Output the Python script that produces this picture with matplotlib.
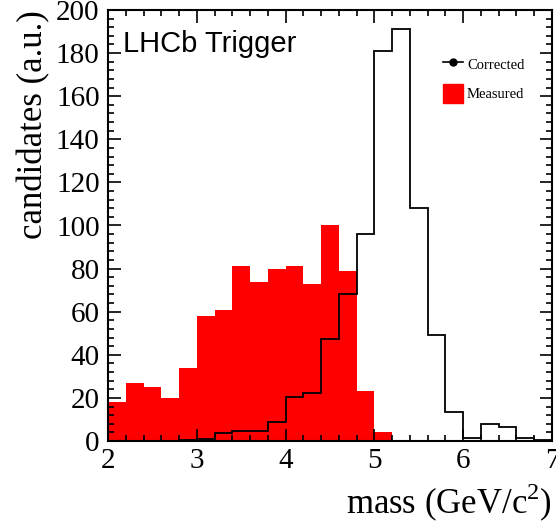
import numpy as np
import matplotlib
matplotlib.use('Agg')
import matplotlib.pyplot as plt
from matplotlib.lines import Line2D
from matplotlib.patches import Patch
from matplotlib.ticker import MultipleLocator

# bin edges 2..7 GeV, width 0.2
edges = np.linspace(2.0, 7.0, 26)
measured = [18, 27, 25, 20, 34, 58, 61, 81, 74, 80, 81, 73, 100, 79, 23, 4,
            0, 0, 0, 0, 0, 0, 0, 0, 0]
corrected = [0, 0, 0, 0, 0.5, 0.7, 3.6, 4.5, 4.5, 8.7, 20.3, 22.4, 47.5, 68, 96,
             181, 191, 108, 49.3, 13.3, 1.4, 7.7, 6.5, 1.4, 0.3]

plt.rcParams['font.family'] = 'Liberation Serif'
plt.rcParams['mathtext.fontset'] = 'custom'
plt.rcParams['mathtext.rm'] = 'Liberation Serif'

fig = plt.figure(figsize=(5.56, 5.27), dpi=100)
ax = fig.add_axes([108/556, 86/527, 444/556, 431/527])

ax.stairs(measured, edges, fill=True, color='#ff0000', lw=0)
ax.stairs(corrected, edges, color='black', lw=1.3)

ax.set_xlim(2, 7)
ax.set_ylim(0, 200)
ax.xaxis.set_major_locator(MultipleLocator(1))
ax.xaxis.set_minor_locator(MultipleLocator(0.2))
ax.yaxis.set_major_locator(MultipleLocator(20))
ax.yaxis.set_minor_locator(MultipleLocator(4))
ax.tick_params(which='both', direction='in', top=True, right=True, width=1.2)
ax.tick_params(which='major', length=9, labelsize=21)
ax.tick_params(which='minor', length=4.5)
ax.tick_params(axis='x', pad=5)
ax.tick_params(axis='y', pad=6)
for s in ax.spines.values():
    s.set_linewidth(1.5)

ax.set_xlabel(r'mass (GeV/c$^{\mathrm{2}}$)', fontsize=25, loc='right', labelpad=6)
ax.set_ylabel('candidates (a.u.)', fontsize=25, loc='top', labelpad=4)

ax.text(0.034, 0.9026, 'LHCb Trigger', transform=ax.transAxes,
        fontsize=21, family='Liberation Sans', va='baseline')

handles = [Line2D([], [], color='black', marker='o', ms=5, lw=1.2),
           Patch(color='#ff0000')]
ax.legend(handles, ['Corrected', 'Measured'], loc='upper left',
          bbox_to_anchor=(443/556, 1 - 54.5/527), bbox_transform=fig.transFigure,
          frameon=False, fontsize=10.5, borderpad=0, borderaxespad=0,
          handlelength=1.35, handleheight=1.6, handletextpad=0.3,
          labelspacing=0.75)

fig.savefig('out.png', dpi=100)
